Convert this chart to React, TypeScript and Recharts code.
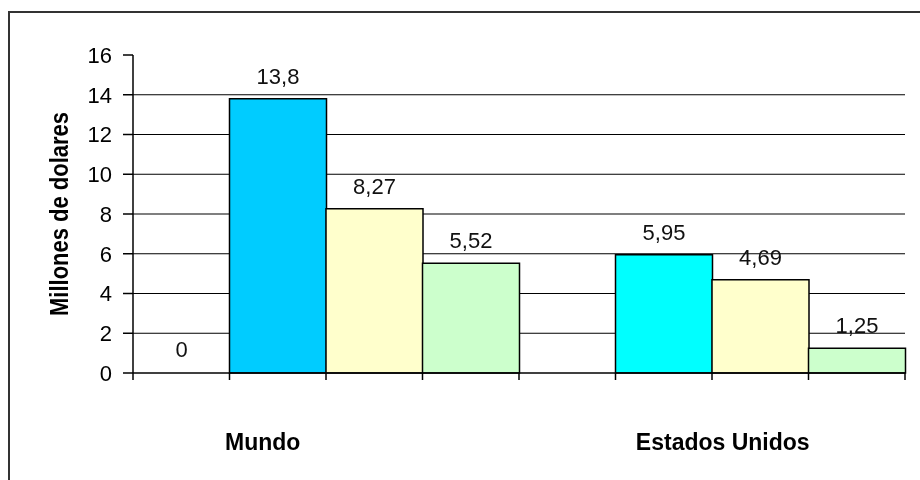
import React from 'react';
import { BarChart, Bar, XAxis, YAxis, CartesianGrid, Cell, LabelList } from 'recharts';

const regions = ['Mundo', 'Estados Unidos'];
const mundoValues = [0, 13.8, 8.27, 5.52];
const estadosUnidosValues = [null, 5.95, 4.69, 1.25];
const yTicks = [0, 2, 4, 6, 8, 10, 12, 14, 16];
const gridValues = [2, 4, 6, 8, 10, 12, 14];

const mundoColors = ['none', '#00CCFF', '#FFFFCC', '#CCFFCC'];
const estadosUnidosColors = ['none', '#00FFFF', '#FFFFCC', '#CCFFCC'];

const W = 912;
const H = 464;
const PLOT_H = 318;
const MARGIN = { top: 47, right: 15, left: 0, bottom: 0 };
const Y_W = 125;
const SLOTS = 8;
const BAND = (W - MARGIN.right - Y_W) / SLOTS;
const FONT = "Arial, 'Liberation Sans', sans-serif";

// one slot per bar, the region name sits on a slot of its group
const table = [
  ...mundoValues.map((v, i) => ({ slot: `m${i}`, value: v, fill: mundoColors[i], label: i === 1 ? regions[0] : '', shift: -15 })),
  ...estadosUnidosValues.map((v, i) => ({ slot: `e${i}`, value: v, fill: estadosUnidosColors[i], label: i === 1 ? regions[1] : '', shift: 59 })),
];

const fmt = (v: any) => (v === null || v === undefined ? '' : String(v).replace('.', ','));

// scale may be a plain d3 function or a wrapper with map()
const yPos = (yAxis: any, offset: any, v: number) => {
  const s = yAxis && yAxis.scale;
  if (typeof s === 'function') return s(v);
  if (s && typeof s.map === 'function') return s.map(v);
  return offset.top + offset.height * (1 - v / 16);
};

const XTick = (props: any) => {
  const { x, y, payload } = props;
  const i = payload?.index ?? props.index ?? 0;
  const row = table[i];
  return (
    <g>
      <line x1={x - BAND / 2} y1={y} x2={x - BAND / 2} y2={y + 7} stroke="#000" strokeWidth={1.5} />
      {i === SLOTS - 1 && (
        <line x1={x + BAND / 2} y1={y} x2={x + BAND / 2} y2={y + 7} stroke="#000" strokeWidth={1.5} />
      )}
      {row && row.label && (
        <text x={x + row.shift} y={y + 77} textAnchor="middle" fill="#000" fontSize={23} fontWeight="bold" fontFamily={FONT}>
          {row.label}
        </text>
      )}
    </g>
  );
};

// narrow bold axis title like the original
const YTitle = (props: any) => {
  const vb = props.viewBox || { x: 0, y: MARGIN.top, width: Y_W, height: PLOT_H };
  const cx = vb.x + 50.5;
  const cy = vb.y + vb.height / 2;
  return (
    <text
      x={cx}
      y={cy}
      dy="0.355em"
      transform={`rotate(-90 ${cx} ${cy})`}
      textAnchor="middle"
      fill="#000"
      fontSize={26}
      fontWeight="bold"
      fontFamily={FONT}
      textLength={204}
      lengthAdjust="spacingAndGlyphs"
    >
      Millones de dolares
    </text>
  );
};

export default function App() {
  return (
    <div style={{ position: 'relative', width: W, height: H }}>
      {/* outer chart frame, cut off on the right and bottom like the source image */}
      <div
        style={{
          position: 'fixed',
          left: 8,
          top: 11,
          right: 0,
          bottom: 0,
          borderTop: '2px solid #333',
          borderLeft: '2px solid #333',
        }}
      />
      <div style={{ position: 'absolute', left: 0, top: 0 }}>
        <BarChart width={W} height={H} data={table} margin={MARGIN} barCategoryGap={0} barGap={0}>
          <CartesianGrid
            vertical={false}
            stroke="#000"
            strokeWidth={1.2}
            horizontalCoordinatesGenerator={({ yAxis, offset }: any) => gridValues.map((v) => yPos(yAxis, offset, v))}
          />
          <XAxis
            dataKey="slot"
            interval={0}
            height={H - MARGIN.top - PLOT_H}
            axisLine={{ stroke: '#000', strokeWidth: 1.5 }}
            tickLine={false}
            tickSize={0}
            tickMargin={0}
            tick={<XTick />}
          />
          <YAxis
            width={Y_W}
            domain={[0, 16]}
            ticks={yTicks}
            interval={0}
            axisLine={{ stroke: '#000', strokeWidth: 1.5 }}
            tickLine={{ stroke: '#000', strokeWidth: 1.5 }}
            tickSize={10}
            tickMargin={11}
            tick={{ fill: '#000', fontSize: 22, fontFamily: FONT }}
            label={<YTitle />}
          />
          <Bar dataKey="value" stroke="#000" strokeWidth={1.5} minPointSize={1} isAnimationActive={false}>
            {table.map((row) => (
              <Cell key={row.slot} fill={row.fill} stroke={row.fill === 'none' ? 'none' : '#000'} />
            ))}
            <LabelList
              dataKey="value"
              position="top"
              offset={15}
              formatter={fmt}
              style={{ fill: '#111', fontSize: 22, fontFamily: FONT }}
            />
          </Bar>
        </BarChart>
      </div>
    </div>
  );
}
